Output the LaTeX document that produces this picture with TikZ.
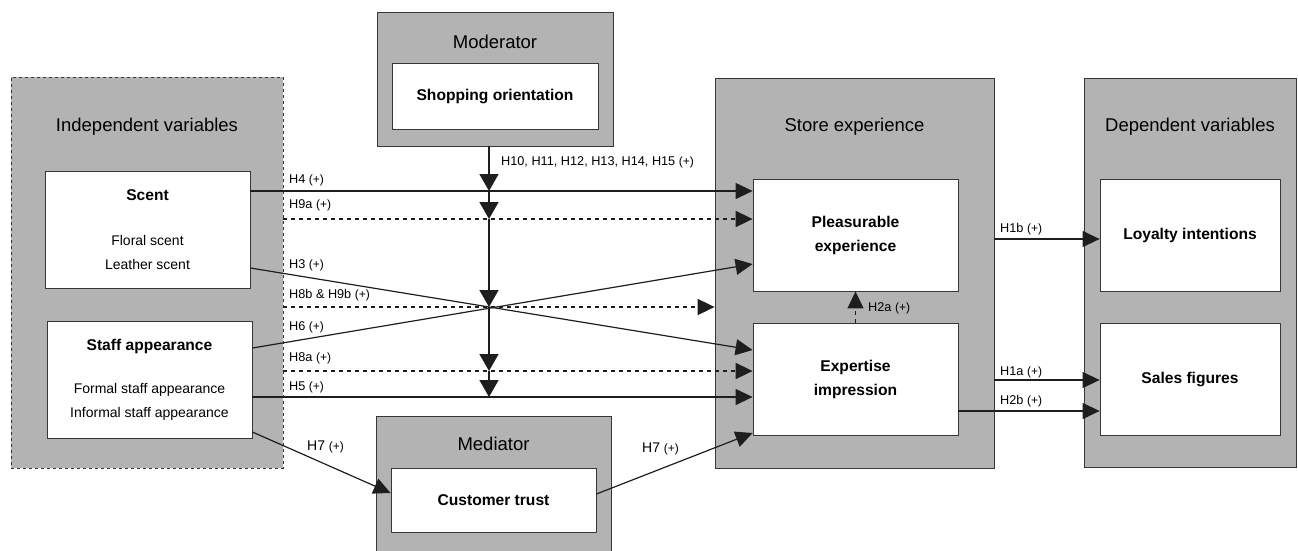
\documentclass[tikz,border=0pt]{standalone}
\usepackage{fontspec}
\setmainfont{Liberation Sans}
\usepackage{tikz}
\usetikzlibrary{positioning, arrows.meta, calc}
\usepackage{xcolor}
\definecolor{panel-grey}{RGB}{179,179,179}
\definecolor{frame-grey}{RGB}{55,55,55}
\definecolor{line-grey}{RGB}{30,30,30}

\newcommand{\hyppos}{{\fontsize{12}{14}\selectfont(+)}}
\newcommand{\subvar}{\normalfont\fontsize{14}{21}\selectfont}

\begin{document}
\begin{tikzpicture}[x=1pt, y=-1pt,
		panel/.style={draw=frame-grey, fill=panel-grey, line width=0.8pt, inner sep=0pt},
		varbox/.style={draw=frame-grey, fill=white, line width=0.8pt, align=center, inner sep=0pt,
			font=\bfseries\fontsize{15.6}{24}\selectfont},
		heading/.style={font=\fontsize{18.5}{22}\selectfont},
		hyp/.style={anchor=west, inner sep=0pt, font=\fontsize{12.7}{14}\selectfont},
		arr/.style={-{Triangle[length=17pt, width=16pt]}, line width=1.2pt, draw=line-grey},
		darr/.style={arr, line width=1.7pt, dash pattern=on 4pt off 4pt}]
	\useasboundingbox (0,0) rectangle (1298,550);
	\clip (0,0) rectangle (1298,550);
	
	% grey panels
	\node[panel, dashed, minimum width=272, minimum height=391] at (147,272.5) (indep) {};
	\node[panel, minimum width=236, minimum height=134] at (495,79) (moder) {};
	\node[panel, minimum width=235, minimum height=160] at (493.5,496) (medi) {};
	\node[panel, minimum width=279, minimum height=390] at (854.5,273) (store) {};
	\node[panel, minimum width=212, minimum height=389] at (1190,272.5) (dep) {};
	
	\node[heading] at (147,127) (indeptitle) {Independent variables};
	\node[heading] at (495,42) (modertitle) {Moderator};
	\node[heading] at (493.5,444) (meditle) {Mediator};
	\node[heading] at (854.5,127) (storetitle) {Store experience};
	\node[heading] at (1190,127) (deptitle) {Dependent variables};
	
	% variables
	\node[varbox, minimum width=205, minimum height=117] at (147.5,229.5) (scent)
		{Scent\\[21pt]\subvar Floral scent\\\subvar Leather scent};
	\node[varbox, minimum width=205, minimum height=117] at (149.5,379.5) (staff)
		{Staff appearance\\[19pt]\subvar Formal staff appearance\\\subvar Informal staff appearance};
	\node[varbox, minimum width=206, minimum height=66] at (495,96) (shop) {Shopping orientation};
	\node[varbox, minimum width=205, minimum height=64] at (493.5,500) (trust) {Customer trust};
	\node[varbox, minimum width=205, minimum height=112] at (855.5,235) (plea) {Pleasurable\\experience};
	\node[varbox, minimum width=205, minimum height=112] at (855.5,379) (exper) {Expertise\\impression};
	\node[varbox, minimum width=180, minimum height=112] at (1190,235) (loyal) {Loyalty intentions};
	\node[varbox, minimum width=180, minimum height=112] at (1190,379) (sales) {Sales figures};
	
	% moderating line and the points where it meets the paths
	\coordinate (m4) at (489,191);
	\coordinate (m9a) at (489,219);
	\coordinate (mx) at (489,307);
	\coordinate (m8a) at (489,371);
	\coordinate (m5) at (489,397);
	\coordinate (mtop) at (moder.south -| m4);
	\foreach \a/\b in {mtop/m4, m4/m9a, m9a/mx, mx/m8a, m8a/m5}
		\draw[arr, line width=1.6pt, -{Triangle[length=17pt, width=19pt]}] (\a) -- (\b);
	
	% direct effects
	\draw[arr] (scent.east |- m4) -- (plea.west |- m4);
	\draw[darr] (indep.east |- m9a) -- (plea.west |- m9a);
	\draw[arr] (scent.east |- 0,268) -- (exper.west |- 0,350);
	\draw[darr] (indep.east |- mx) -- (store.west |- mx);
	\draw[arr] (staff.east |- 0,348) -- (plea.west |- 0,264);
	\draw[darr] (indep.east |- m8a) -- (exper.west |- m8a);
	\draw[arr] (staff.east |- m5) -- (exper.west |- m5);
	\draw[arr] (staff.east |- 0,432) -- (trust.west |- 0,493);
	\draw[arr] (trust.east |- 0,494) -- (exper.west |- 0,433);
	\draw[darr, line width=1.2pt] (exper.north) -- (plea.south);
	\draw[arr] (store.east |- 0,239) -- (loyal.west |- 0,239);
	\draw[arr] (store.east |- 0,380) -- (sales.west |- 0,380);
	\draw[arr] (exper.east |- 0,411) -- (sales.west |- 0,411);
	
	% hypothesis labels
	\node[hyp] at (501,162) (hmod) {H10, H11, H12, H13, H14, H15 \hyppos};
	\node[hyp] at (289,180) (h4) {H4 \hyppos};
	\node[hyp] at (289,205) (h9a) {H9a \hyppos};
	\node[hyp] at (289,265) (h3) {H3 \hyppos};
	\node[hyp] at (289,295) (h8b) {H8b \& H9b \hyppos};
	\node[hyp] at (289,327) (h6) {H6 \hyppos};
	\node[hyp] at (289,358) (h8a) {H8a \hyppos};
	\node[hyp] at (289,387) (h5) {H5 \hyppos};
	\node[hyp, font=\fontsize{14}{16}\selectfont] at (307,447) (h7l) {H7 \hyppos};
	\node[hyp, font=\fontsize{14}{16}\selectfont] at (642,449) (h7r) {H7 \hyppos};
	\node[hyp] at (868,308) (h2a) {H2a \hyppos};
	\node[hyp] at (1000,229) (h1b) {H1b \hyppos};
	\node[hyp] at (1000,372) (h1a) {H1a \hyppos};
	\node[hyp] at (1000,401) (h2b) {H2b \hyppos};
\end{tikzpicture}
\end{document}
